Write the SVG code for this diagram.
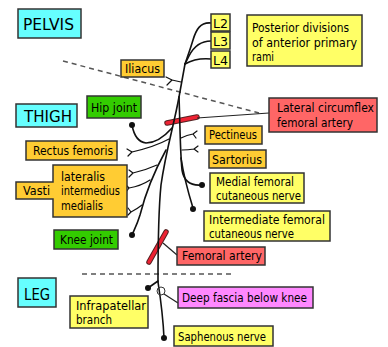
<svg xmlns="http://www.w3.org/2000/svg" width="388" height="347" viewBox="0 0 388 347">
  <defs>
    <style>
      .box { stroke: #333; stroke-width: 1.5; }
      .region { fill: #66ffff; }
      .muscle { fill: #ffcc33; }
      .joint { fill: #33cc00; }
      .skin { fill: #ffff66; }
      .artery { fill: #ff6666; }
      .fascia { fill: #ff88ff; }
      text { font-family: "DejaVu Sans", "Liberation Sans", sans-serif; font-size: 12px; fill: #000; }
      .big { font-size: 16px; }
      .nerve { fill: none; stroke: #111; stroke-width: 1.6; stroke-linecap: round; stroke-linejoin: round; }
      .twig { fill: none; stroke: #111; stroke-width: 1.2; stroke-linecap: round; }
      .link { fill: none; stroke: #222; stroke-width: 1.2; }
      .dash { fill: none; stroke: #555; stroke-width: 1.5; stroke-dasharray: 5 4; }
      .vessel-edge { stroke: #552222; stroke-width: 5.5; stroke-linecap: round; }
      .vessel { stroke: #ee2233; stroke-width: 3.5; stroke-linecap: round; }
      .end { fill: #111; }
    </style>
  </defs>

  <rect width="388" height="347" fill="#ffffff"/>

  <!-- boundary lines -->
  <g id="boundaries">
    <line class="dash" x1="63" y1="61" x2="259" y2="113"/>
    <line class="dash" x1="82" y1="274" x2="233" y2="274"/>
  </g>

  <!-- vessels crossing the nerve -->
  <g id="vessels">
    <line class="vessel-edge" x1="167" y1="123" x2="197" y2="117"/>
    <line class="vessel" x1="167" y1="123" x2="197" y2="117"/>
    <line class="vessel-edge" x1="166" y1="232" x2="149" y2="262"/>
    <line class="vessel" x1="166" y1="232" x2="149" y2="262"/>
  </g>

  <!-- nerve tree and connectors -->
  <g id="connectors">
    <!-- roots -->
    <path class="nerve" d="M211,23 C200,22 196,30 193,40 C190,50 187,58 185,64"/>
    <path class="nerve" d="M211,41 C200,41 193,48 189,56 L185,64"/>
    <path class="nerve" d="M211,59 C200,58 192,60 185,64"/>
    <!-- trunk -->
    <path class="nerve" d="M185,64 C183,75 181,86 179,97"/>
    <!-- iliacus twig -->
    <path class="twig" d="M181,82 L172,80 M172,80 L166,77 M172,80 L167,85"/>
    <!-- saphenous line -->
    <path class="nerve" d="M179,97 C174,125 166,150 161,185 C158,215 158,250 158,282"/>
    <!-- medial femoral cutaneous -->
    <path class="nerve" d="M179,97 C180,120 180,150 182,170 C184,182 192,186 202,185"/>
    <!-- intermediate femoral cutaneous -->
    <path class="nerve" d="M181,158 C184,178 189,195 193,208"/>
    <!-- pectineus twig -->
    <path class="twig" d="M181,138 Q187,135 193,134 M193,134 L197,131 M193,134 L196,138"/>
    <!-- sartorius twig -->
    <path class="twig" d="M182,150 Q188,150 194,149 M194,149 L198,146 M194,149 L198,152"/>
    <!-- hip joint -->
    <path class="nerve" d="M132,125 C134,136 138,142 146,143 C155,143 164,137 172,128"/>
    <!-- rectus femoris -->
    <path class="twig" d="M169,139 C158,145 145,149 132,152 M132,152 L127,149 M132,152 L128,156"/>
    <!-- knee joint and vasti -->
    <path class="nerve" d="M166,150 C155,170 145,195 140,215 C137,225 134,230 132,235"/>
    <path class="twig" d="M157,165 Q146,170 133,173 M133,173 L129,170 M133,173 L129,177"/>
    <path class="twig" d="M150,180 Q141,186 129,188 M129,188 L126,185 M129,188 L126,192"/>
    <path class="twig" d="M142,205 Q137,209 131,212 M131,212 L128,208 M131,212 L128,215"/>
    <!-- below knee -->
    <path class="nerve" d="M158,281 L148,288"/>
    <path class="nerve" d="M158,282 C160,295 163,315 164,338"/>
    <circle cx="161" cy="291" r="4" fill="none" stroke="#333" stroke-width="1"/>
    <!-- label leaders -->
    <path class="link" d="M197,118 L269,113"/>
    <path class="link" d="M163,243 L177,255"/>
    <path class="link" d="M164,294 L178,303"/>
    <!-- nerve endings -->
    <circle class="end" cx="132" cy="125" r="3"/>
    <circle class="end" cx="132" cy="235" r="3"/>
    <circle class="end" cx="202" cy="185" r="3"/>
    <circle class="end" cx="193" cy="209" r="3"/>
    <circle class="end" cx="148" cy="288" r="3"/>
    <circle class="end" cx="164" cy="338" r="3"/>
  </g>

  <!-- regions -->
  <g id="pelvis">
    <rect class="box region" x="18" y="9" width="63" height="29"/>
    <text class="big" x="23" y="30" textLength="51" lengthAdjust="spacingAndGlyphs">PELVIS</text>
  </g>
  <g id="thigh">
    <rect class="box region" x="16" y="104" width="61" height="23"/>
    <text class="big" x="24" y="122" textLength="48" lengthAdjust="spacingAndGlyphs">THIGH</text>
  </g>
  <g id="leg">
    <rect class="box region" x="18" y="278" width="38" height="29"/>
    <text class="big" x="24" y="300" textLength="26" lengthAdjust="spacingAndGlyphs">LEG</text>
  </g>

  <!-- roots -->
  <g id="l2">
    <rect class="box skin" x="211" y="14" width="19" height="17"/>
    <text x="213" y="28" textLength="15" lengthAdjust="spacingAndGlyphs">L2</text>
  </g>
  <g id="l3">
    <rect class="box skin" x="211" y="32" width="19" height="17"/>
    <text x="213" y="46" textLength="15" lengthAdjust="spacingAndGlyphs">L3</text>
  </g>
  <g id="l4">
    <rect class="box skin" x="211" y="51" width="19" height="17"/>
    <text x="213" y="65" textLength="15" lengthAdjust="spacingAndGlyphs">L4</text>
  </g>
  <g id="posterior-divisions">
    <rect class="box skin" x="247" y="15" width="115" height="51"/>
    <text x="252" y="32" textLength="97" lengthAdjust="spacingAndGlyphs">Posterior divisions</text>
    <text x="252" y="47" textLength="105" lengthAdjust="spacingAndGlyphs">of anterior primary</text>
    <text x="252" y="61" textLength="22" lengthAdjust="spacingAndGlyphs">rami</text>
  </g>

  <!-- muscles -->
  <g id="iliacus">
    <rect class="box muscle" x="121" y="60" width="43" height="17"/>
    <text x="125" y="73" textLength="35" lengthAdjust="spacingAndGlyphs">Iliacus</text>
  </g>
  <g id="rectus-femoris">
    <rect class="box muscle" x="26" y="141" width="91" height="19"/>
    <text x="33" y="155" textLength="80" lengthAdjust="spacingAndGlyphs">Rectus femoris</text>
  </g>
  <g id="vasti">
    <path class="box muscle" d="M53,165 H127 V217 H53 V199 H16 V182 H53 Z"/>
    <text x="23" y="195" textLength="27" lengthAdjust="spacingAndGlyphs">Vasti</text>
    <text x="61" y="181" textLength="44" lengthAdjust="spacingAndGlyphs">lateralis</text>
    <text x="61" y="195" textLength="59" lengthAdjust="spacingAndGlyphs">intermedius</text>
    <text x="61" y="210" textLength="42" lengthAdjust="spacingAndGlyphs">medialis</text>
  </g>
  <g id="pectineus">
    <rect class="box muscle" x="205" y="126" width="57" height="18"/>
    <text x="209" y="139" textLength="48" lengthAdjust="spacingAndGlyphs">Pectineus</text>
  </g>
  <g id="sartorius">
    <rect class="box muscle" x="209" y="150" width="57" height="18"/>
    <text x="212" y="164" textLength="50" lengthAdjust="spacingAndGlyphs">Sartorius</text>
  </g>

  <!-- joints -->
  <g id="hip-joint">
    <rect class="box joint" x="87" y="96" width="54" height="22"/>
    <text x="91" y="112" textLength="46" lengthAdjust="spacingAndGlyphs">Hip joint</text>
  </g>
  <g id="knee-joint">
    <rect class="box joint" x="54" y="230" width="64" height="19"/>
    <text x="60" y="244" textLength="53" lengthAdjust="spacingAndGlyphs">Knee joint</text>
  </g>

  <!-- arteries -->
  <g id="lateral-circumflex-femoral-artery">
    <rect class="box artery" x="269" y="98" width="108" height="34"/>
    <text x="277" y="112" textLength="97" lengthAdjust="spacingAndGlyphs">Lateral circumflex</text>
    <text x="277" y="127" textLength="76" lengthAdjust="spacingAndGlyphs">femoral artery</text>
  </g>
  <g id="femoral-artery">
    <rect class="box artery" x="177" y="247" width="88" height="18"/>
    <text x="182" y="260" textLength="80" lengthAdjust="spacingAndGlyphs">Femoral artery</text>
  </g>

  <!-- cutaneous nerves -->
  <g id="medial-femoral-cutaneous-nerve">
    <rect class="box skin" x="210" y="173" width="94" height="30"/>
    <text x="216" y="186" textLength="78" lengthAdjust="spacingAndGlyphs">Medial femoral</text>
    <text x="216" y="200" textLength="85" lengthAdjust="spacingAndGlyphs">cutaneous nerve</text>
  </g>
  <g id="intermediate-femoral-cutaneous-nerve">
    <rect class="box skin" x="204" y="211" width="126" height="30"/>
    <text x="209" y="224" textLength="116" lengthAdjust="spacingAndGlyphs">Intermediate femoral</text>
    <text x="209" y="238" textLength="85" lengthAdjust="spacingAndGlyphs">cutaneous nerve</text>
  </g>
  <g id="deep-fascia">
    <rect class="box fascia" x="178" y="287" width="135" height="21"/>
    <text x="182" y="302" textLength="125" lengthAdjust="spacingAndGlyphs">Deep fascia below knee</text>
  </g>
  <g id="infrapatellar-branch">
    <rect class="box skin" x="70" y="296" width="78" height="32"/>
    <text x="76" y="310" textLength="70" lengthAdjust="spacingAndGlyphs">Infrapatellar</text>
    <text x="76" y="324" textLength="36" lengthAdjust="spacingAndGlyphs">branch</text>
  </g>
  <g id="saphenous-nerve">
    <rect class="box skin" x="174" y="326" width="99" height="20"/>
    <text x="178" y="341" textLength="88" lengthAdjust="spacingAndGlyphs">Saphenous nerve</text>
  </g>
</svg>
